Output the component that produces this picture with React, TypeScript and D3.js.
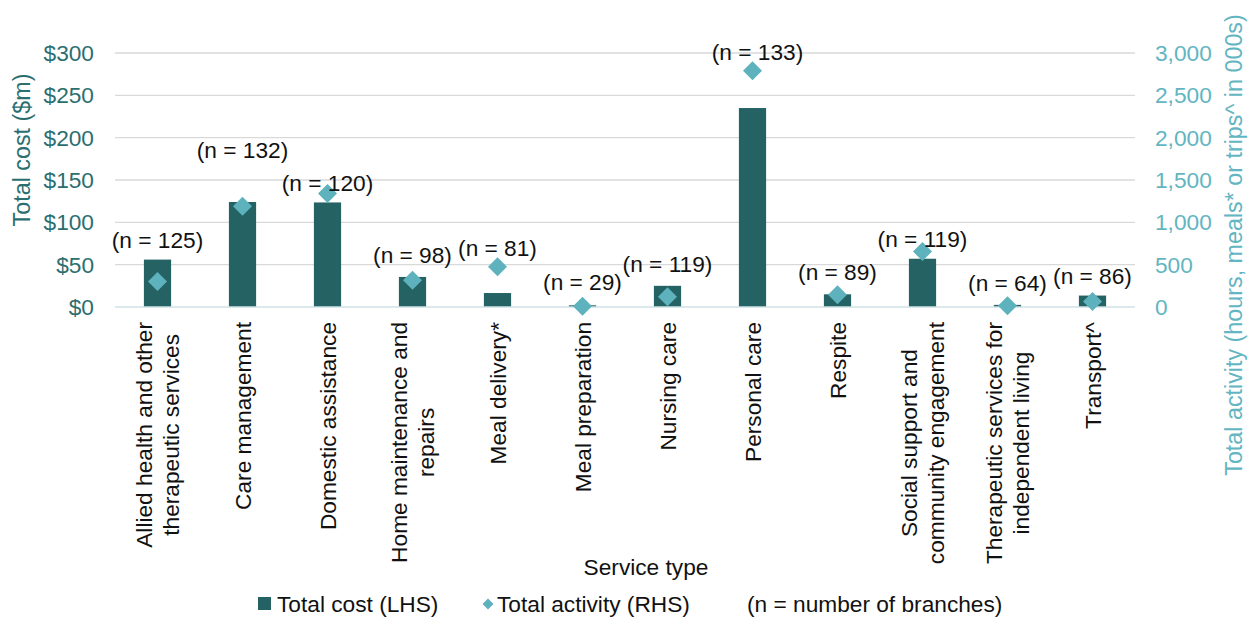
import React from "react";
import * as d3 from "d3";

// Service types (line breaks mark the wrapped axis labels)
const categories: string[][] = [
  ["Allied health and other", "therapeutic services"],
  ["Care management"],
  ["Domestic assistance"],
  ["Home maintenance and", "repairs"],
  ["Meal delivery*"],
  ["Meal preparation"],
  ["Nursing care"],
  ["Personal care"],
  ["Respite"],
  ["Social support and", "community engagement"],
  ["Therapeutic services for", "independent living"],
  ["Transport^"],
];

// Total cost, $m (left axis)
const totalCost = [56, 124, 123.5, 35.5, 16.5, 2, 25, 235, 15, 57, 2.5, 13.5];

// Total activity, 000s of hours / meals / trips (right axis)
const totalActivity = [300, 1190, 1340, 315, 475, 8, 120, 2790, 145, 655, 15, 65];

// Number of branches delivering each service
const branches = [125, 132, 120, 98, 81, 29, 119, 133, 89, 119, 64, 86];

const costTicks = [0, 50, 100, 150, 200, 250, 300];
const activityTicks = [0, 500, 1000, 1500, 2000, 2500, 3000];

// Label placement tweaks (pixels above the taller mark, horizontal nudge)
const labelRaise = [20, 47, 1.5, 16, 9, 15, 22, 9, 13.5, 3.5, 13.5, 16];
const labelShift = [0, 0, 0, 0, 0, 0, 0, 5, 0, 0, 0, 0];

const W = 1250;
const H = 617;
const FONT = "'Liberation Sans', Arial, sans-serif";
const FS = 22.7;
const TITLE_FS = 23.3;
const BAR = "#256264";
const DIAMOND = "#5EB2BE";
const LEFT_TXT = "#2B6E70";
const RIGHT_TXT = "#62B5C1";

const measureCtx =
  typeof document !== "undefined"
    ? (document.createElement("canvas").getContext("2d") as CanvasRenderingContext2D)
    : null;
function textWidth(s: string): number {
  if (!measureCtx) return s.length * FS * 0.5;
  measureCtx.font = `${FS}px 'Liberation Sans', Arial, sans-serif`;
  return measureCtx.measureText(s).width;
}

export default function App() {
  const left = 115;
  const right = 1135;
  const top = 53;
  const bottom = 307;

  const keys = categories.map((c) => c.join(" "));
  const x = d3
    .scaleBand<string>()
    .domain(keys)
    .range([left, right])
    .paddingInner(0.68)
    .paddingOuter(0.34);
  const yCost = d3.scaleLinear().domain([0, 300]).range([bottom, top]);
  const yAct = d3.scaleLinear().domain([0, 3000]).range([bottom, top]);

  const diamondHalf = 9.5;
  const diamond = d3.symbol().type(d3.symbolSquare).size(2 * diamondHalf * diamondHalf)();
  const legendDiamond = d3.symbol().type(d3.symbolSquare).size(2 * 5.5 * 5.5)();

  const fmtCost = (v: number) => `$${v}`;
  const fmtAct = d3.format(",");

  return (
    <svg
      width={W}
      height={H}
      style={{ position: "absolute", left: 0, top: 0, background: "#fff" }}
      fontFamily={FONT}
      fontSize={FS}
    >
      {/* gridlines */}
      {costTicks.map((t) =>
        t === 0 ? null : (
          <line
            key={`g${t}`}
            x1={left}
            x2={right}
            y1={yCost(t)}
            y2={yCost(t)}
            stroke="#D9D9D9"
            strokeWidth={1.4}
          />
        )
      )}

      {/* left axis labels */}
      {costTicks.map((t) => (
        <text
          key={`l${t}`}
          x={94}
          y={yCost(t)}
          textAnchor="end"
          dominantBaseline="central"
          fill={LEFT_TXT}
        >
          {fmtCost(t)}
        </text>
      ))}

      {/* right axis labels */}
      {activityTicks.map((t) => (
        <text
          key={`r${t}`}
          x={1155}
          y={yAct(t)}
          textAnchor="start"
          dominantBaseline="central"
          fill={RIGHT_TXT}
        >
          {fmtAct(t)}
        </text>
      ))}

      {/* axis titles */}
      <text
        transform={`translate(22,150) rotate(-90)`}
        textAnchor="middle"
        dominantBaseline="central"
        fill={LEFT_TXT}
        fontSize={TITLE_FS}
      >
        Total cost ($m)
      </text>
      <text
        transform={`translate(1234,245) rotate(-90)`}
        textAnchor="middle"
        dominantBaseline="central"
        fill={RIGHT_TXT}
        fontSize={TITLE_FS}
      >
        Total activity (hours, meals* or trips^ in 000s)
      </text>

      {/* bars */}
      {keys.map((k, i) => (
        <rect
          key={`b${k}`}
          x={x(k)}
          y={yCost(totalCost[i])}
          width={x.bandwidth()}
          height={yCost(0) - yCost(totalCost[i])}
          fill={BAR}
        />
      ))}

      {/* baseline */}
      <line x1={left} x2={right} y1={bottom} y2={bottom} stroke="#CFE2E6" strokeWidth={1.4} />

      {/* activity diamonds */}
      {keys.map((k, i) => (
        <path
          key={`d${k}`}
          d={diamond || ""}
          transform={`translate(${(x(k) || 0) + x.bandwidth() / 2},${yAct(totalActivity[i])}) rotate(45)`}
          fill={DIAMOND}
        />
      ))}

      {/* branch count labels */}
      {keys.map((k, i) => {
        const cx = (x(k) || 0) + x.bandwidth() / 2 + labelShift[i];
        const markTop = Math.min(yCost(totalCost[i]), yAct(totalActivity[i]) - diamondHalf);
        return (
          <text
            key={`n${k}`}
            x={cx}
            y={markTop - labelRaise[i]}
            textAnchor="middle"
            dominantBaseline="central"
            fill="#111"
          >
            {`(n = ${branches[i]})`}
          </text>
        );
      })}

      {/* category labels, rotated */}
      {categories.map((lines, i) => {
        const k = keys[i];
        const cx = (x(k) || 0) + x.bandwidth() / 2;
        const maxW = Math.max(...lines.map(textWidth));
        const lh = 27;
        return (
          <g key={`c${k}`} transform={`translate(${cx},322) rotate(-90)`}>
            {lines.map((ln, j) => (
              <text
                key={j}
                x={-maxW / 2}
                y={(j - (lines.length - 1) / 2) * lh}
                textAnchor="middle"
                dominantBaseline="central"
                fill="#111"
              >
                {ln}
              </text>
            ))}
          </g>
        );
      })}

      {/* x axis title */}
      <text x={646} y={567} textAnchor="middle" dominantBaseline="central" fill="#111">
        Service type
      </text>

      {/* legend */}
      <rect x={258} y={597} width={13} height={13} fill={BAR} />
      <text x={277} y={604} dominantBaseline="central" fill="#111">
        Total cost (LHS)
      </text>
      <path d={legendDiamond || ""} transform="translate(488,604) rotate(45)" fill={DIAMOND} />
      <text x={497} y={604} dominantBaseline="central" fill="#111">
        Total activity (RHS)
      </text>
      <text x={747} y={604} dominantBaseline="central" fill="#111">
        (n = number of branches)
      </text>
    </svg>
  );
}
